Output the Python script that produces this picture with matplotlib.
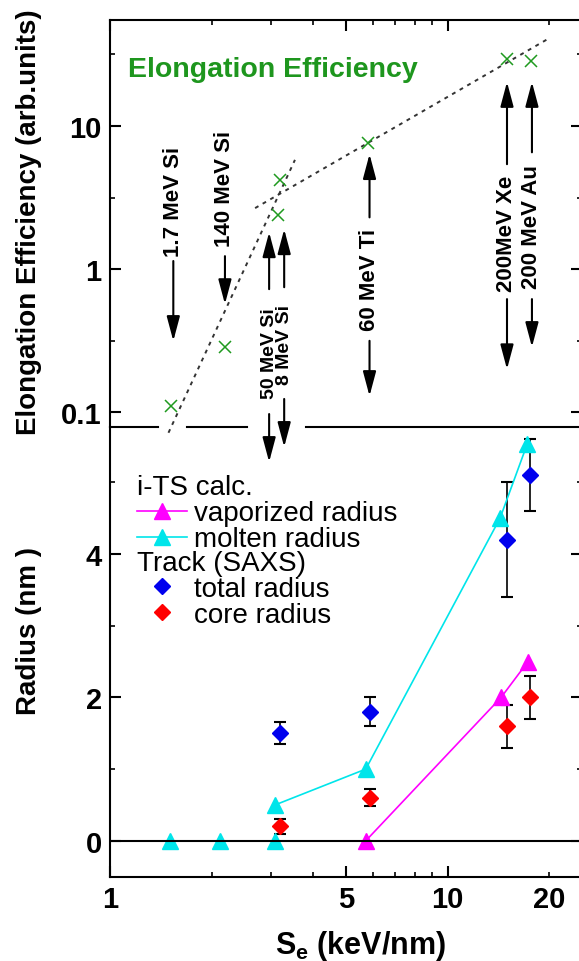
import matplotlib
matplotlib.use('Agg')
import matplotlib.pyplot as plt
from matplotlib.ticker import FixedLocator, FixedFormatter, NullFormatter

plt.rcParams['font.family'] = ['Liberation Sans', 'DejaVu Sans']
plt.rcParams['mathtext.fontset'] = 'custom'
plt.rcParams['mathtext.rm'] = 'Liberation Sans'
plt.rcParams['mathtext.bf'] = 'Liberation Sans:bold'

# ---------------- data ----------------
# top panel: elongation efficiency
elong_se = [1.52, 2.19, 3.15, 3.19, 5.8, 14.97, 17.6]
elong_eff = [0.11, 0.285, 2.4, 4.17, 7.6, 29.6, 28.5]
fit_steep_se = [1.49, 3.53]
fit_steep_eff = [0.072, 5.8]
fit_shallow_se = [2.69, 19.9]
fit_shallow_eff = [2.67, 40.8]

ion_labels = ['1.7 MeV Si', '140 MeV Si', '50 MeV Si', '8 MeV Si',
              '60 MeV Ti', '200MeV Xe', '200 MeV Au']
ion_se = [1.54, 2.19, 2.96, 3.28, 5.87, 14.99, 17.77]
ion_text_y = [2.98, 3.7, 0.261, 0.30, 0.85, 1.80, 2.01]
ion_text_size = [16, 16, 14, 14, 16, 16, 16]
up_from = [None, None, 0.725, 0.748, 2.30, 5.41, 6.55]
up_to = [None, None, 1.81, 1.90, 6.36, 20.3, 20.3]
down_from = [1.14, 1.233, 0.0973, 0.124, 0.316, 0.618, 0.618]
down_to = [0.315, 0.57, 0.045, 0.0573, 0.130, 0.20, 0.286]

# bottom panel: radius
molten_zero_se = [1.51, 2.12, 3.08]
molten_zero_r = [0.0, 0.0, 0.0]
molten_se = [3.08, 5.72, 14.3, 17.2]
molten_r = [0.5, 1.0, 4.5, 5.53]
vapor_se = [5.72, 14.4, 17.3]
vapor_r = [0.0, 2.0, 2.5]
saxs_se = [3.18, 5.9, 14.97, 17.55]
total_r = [1.5, 1.8, 4.2, 5.1]
total_err = [0.15, 0.2, 0.8, 0.5]
core_r = [0.2, 0.6, 1.6, 2.0]
core_err = [0.1, 0.12, 0.3, 0.3]

x_major = [1, 5, 10]
x_minor = [2, 3, 4, 6, 7, 8, 9, 20]
x_minor_labels = ['', '', '', '', '', '', '', '20']

# ---------------- figure ----------------
W, H = 579, 962
fig = plt.figure(figsize=(W / 100, H / 100), dpi=100)
L, R = 110, 582
ax_top = fig.add_axes([L / W, 1 - 428 / H, (R - L) / W, (428 - 21) / H])
ax_bot = fig.add_axes([L / W, 1 - 877.7 / H, (R - L) / W, (877.7 - 428) / H])
ax_bot.patch.set_visible(False)

TICK_FS = 21
for ax in (ax_top, ax_bot):
    ax.set_xscale('log')
    ax.set_xlim(1, 25)
    for s in ax.spines.values():
        s.set_linewidth(1.5)
    ax.xaxis.set_major_locator(FixedLocator(x_major))
    ax.xaxis.set_minor_locator(FixedLocator(x_minor))
    ax.tick_params(which='major', direction='in', length=8, width=1.5,
                   labelsize=TICK_FS, pad=6)
    ax.tick_params(which='minor', direction='in', length=3.5, width=1.2,
                   labelsize=TICK_FS, pad=6)

# ---- top panel ----
ax_top.set_yscale('log')
ax_top.set_ylim(0.079, 55)
ax_top.yaxis.set_major_locator(FixedLocator([0.1, 1, 10]))
ax_top.yaxis.set_major_formatter(FixedFormatter(['0.1', '1', '10']))
ax_top.yaxis.set_minor_locator(FixedLocator([0.316, 3.16, 31.6]))
ax_top.yaxis.set_minor_formatter(NullFormatter())
ax_top.tick_params(axis='x', which='both', top=True, bottom=False,
                   labelbottom=False)
ax_top.tick_params(axis='y', which='both', left=True, right=True)
ax_top.spines['bottom'].set_visible(False)
for a, b in [(0.0, 0.1017), (0.163, 0.291), (0.415, 1.0)]:
    ax_top.plot([a, b], [0, 0], color='black', lw=1.5,
                transform=ax_top.transAxes, clip_on=False, zorder=5)

ax_top.plot(fit_steep_se, fit_steep_eff, color='#333333', lw=1.4,
            ls=(0, (2, 2.5)), clip_on=False, zorder=2)
ax_top.plot(fit_shallow_se, fit_shallow_eff, color='#333333', lw=1.4,
            ls=(0, (2, 2.5)), clip_on=False, zorder=2)
ax_top.plot(elong_se, elong_eff, ls='none', marker='x', ms=8, mew=1.1,
            color='#1f9a1f', zorder=3)
ax_top.text(0.038, 0.88, 'Elongation Efficiency', transform=ax_top.transAxes,
            ha='left', va='center', fontsize=20.5, fontweight='bold',
            color='#1e961e')

aprops = dict(arrowstyle='-|>,head_length=0.75,head_width=0.2', lw=1.5,
              color='black', shrinkA=0, shrinkB=0, mutation_scale=20)
for i, lab in enumerate(ion_labels):
    x = ion_se[i]
    ax_top.text(x, ion_text_y[i], lab, rotation=90, ha='center', va='center',
                fontsize=ion_text_size[i], fontweight='bold', zorder=4)
    if up_from[i] is not None:
        ax_top.annotate('', xy=(x, up_to[i]), xytext=(x, up_from[i]),
                        arrowprops=aprops, annotation_clip=False)
    ax_top.annotate('', xy=(x, down_to[i]), xytext=(x, down_from[i]),
                    arrowprops=aprops, annotation_clip=False)

# ---- bottom panel ----
ax_bot.set_ylim(-0.5, 5.77)
ax_bot.yaxis.set_major_locator(FixedLocator([0, 2, 4]))
ax_bot.yaxis.set_minor_locator(FixedLocator([1, 3, 5]))
ax_bot.yaxis.set_minor_formatter(NullFormatter())
ax_bot.xaxis.set_minor_formatter(FixedFormatter(x_minor_labels))
ax_bot.xaxis.set_major_formatter(FixedFormatter(['1', '5', '10']))
ax_bot.tick_params(axis='y', which='both', left=True, right=True)
ax_bot.tick_params(axis='x', which='both', top=False, bottom=True)
ax_bot.spines['top'].set_visible(False)

for ax in (ax_top, ax_bot):
    for lab in (ax.get_xticklabels() + ax.get_xticklabels(minor=True)
                + ax.get_yticklabels()):
        lab.set_fontweight('bold')

ax_bot.axhline(0, color='black', lw=1.5, zorder=4)

cyan = '#00e5ea'
mag = '#ff00ff'
ax_bot.plot(molten_zero_se, molten_zero_r, ls='none', marker='^', ms=11,
            color=cyan, zorder=3)
molten_line, = ax_bot.plot(molten_se, molten_r, marker='^', ms=11, lw=1.2,
                           color=cyan, zorder=3)
vapor_line, = ax_bot.plot(vapor_se, vapor_r, marker='^', ms=11, lw=1.2,
                          color=mag, zorder=3)
ax_bot.errorbar(saxs_se, total_r, yerr=total_err, fmt='none', ecolor='black',
                elinewidth=1.2, capsize=4.5, capthick=1.5, zorder=2)
ax_bot.errorbar(saxs_se, core_r, yerr=core_err, fmt='none', ecolor='black',
                elinewidth=1.2, capsize=4.5, capthick=1.5, zorder=2)
total_pts, = ax_bot.plot(saxs_se, total_r, ls='none', marker='D', ms=8.5,
                         color='#0000ee', zorder=4)
core_pts, = ax_bot.plot(saxs_se, core_r, ls='none', marker='D', ms=8.5,
                        color='#ff0000', zorder=4)

leg_kw = dict(loc='upper left', frameon=False, borderpad=0, borderaxespad=0,
              handlelength=1.8, handletextpad=0.27, labelspacing=0.0,
              fontsize=20, title_fontsize=20, alignment='left', numpoints=1)
leg1 = ax_bot.legend([vapor_line, molten_line],
                     ['vaporized radius', 'molten radius'],
                     title='i-TS calc.', bbox_to_anchor=(0.0566, 0.8946),
                     **leg_kw)
ax_bot.add_artist(leg1)
ax_bot.legend([total_pts, core_pts], ['total radius', 'core radius'],
              title='Track (SAXS)', bbox_to_anchor=(0.0566, 0.7267), **leg_kw)

# ---- axis labels ----
fig.text(29 / W, 1 - 222 / H, 'Elongation Efficiency (arb.units)',
         rotation=90, ha='center', va='center', fontsize=20,
         fontweight='bold')
fig.text(29 / W, 1 - 631 / H, 'Radius (nm )', rotation=90, ha='center',
         va='center', fontsize=20, fontweight='bold')
fig.text(361 / W, 1 - 946 / H, r'S$_\mathbf{e}$ (keV/nm)', ha='center',
         va='center', fontsize=22, fontweight='bold')

fig.savefig('out.png', dpi=100)
